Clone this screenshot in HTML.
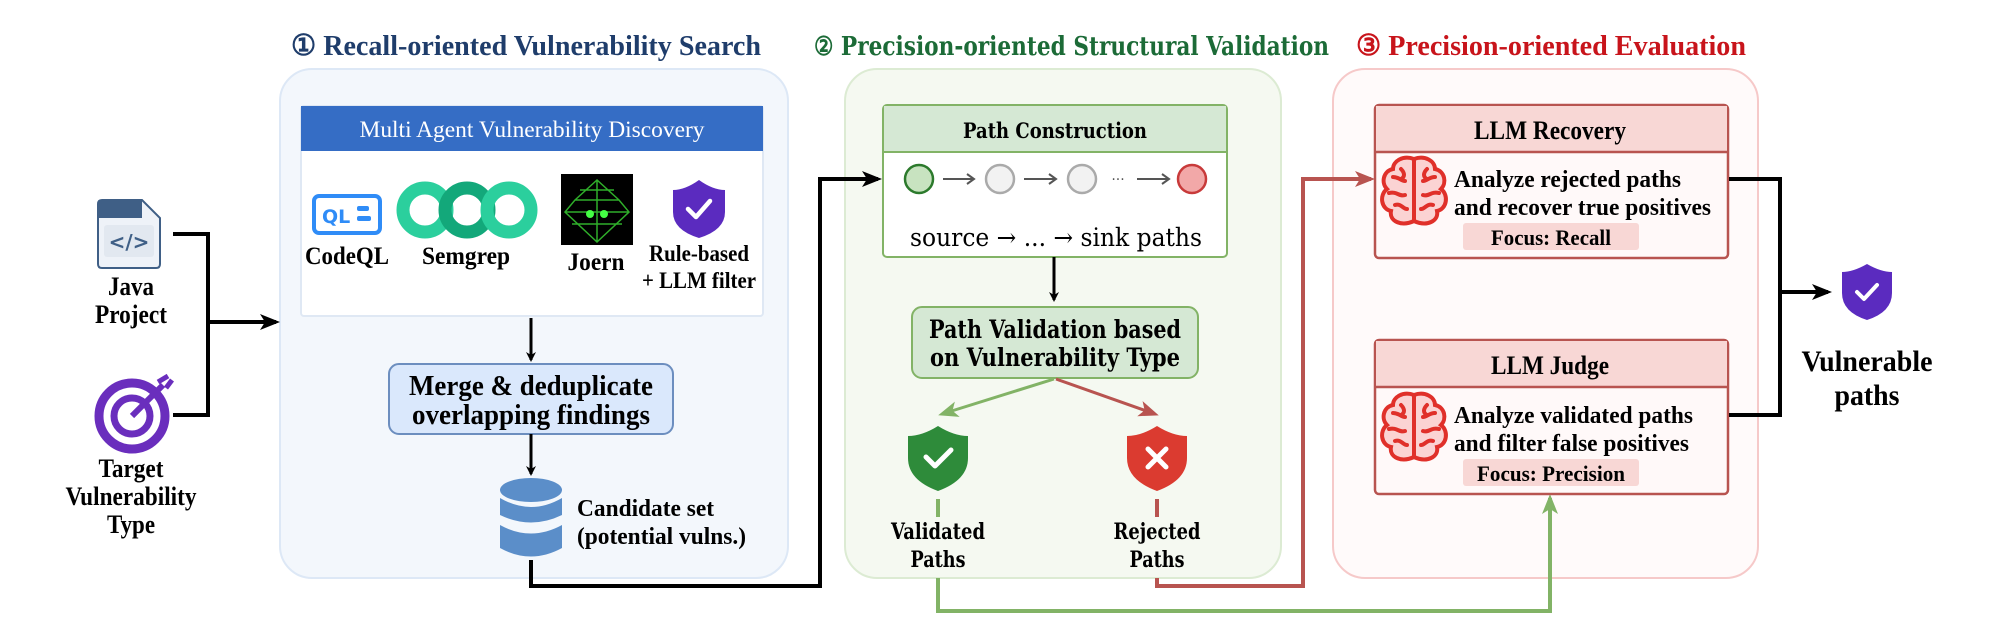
<!DOCTYPE html>
<html><head><meta charset="utf-8"><style>
html,body{margin:0;padding:0;background:#fff;}
svg{display:block;}
.ls{font-family:"Liberation Serif",serif;}
.dv{font-family:"DejaVu Serif","Liberation Serif",serif;}
</style></head><body>
<svg width="2000" height="642" viewBox="0 0 2000 642" xmlns="http://www.w3.org/2000/svg">
<defs>
<marker id="ab" markerWidth="10" markerHeight="10" refX="8" refY="5" orient="auto" markerUnits="userSpaceOnUse" viewBox="0 0 10 10"><path d="M0,0 L10,5 L0,10 L3,5 Z" fill="#000"/></marker>
<marker id="ag" markerWidth="20" markerHeight="20" refX="16" refY="10" orient="auto" markerUnits="userSpaceOnUse" viewBox="0 0 20 20"><path d="M0,2 L20,10 L0,18 L5,10 Z" fill="#82b366"/></marker>
<marker id="ar" markerWidth="20" markerHeight="20" refX="16" refY="10" orient="auto" markerUnits="userSpaceOnUse" viewBox="0 0 20 20"><path d="M0,2 L20,10 L0,18 L5,10 Z" fill="#b85450"/></marker>
<marker id="ak" markerWidth="20" markerHeight="20" refX="16" refY="10" orient="auto" markerUnits="userSpaceOnUse" viewBox="0 0 20 20"><path d="M0,2 L20,10 L0,18 L5,10 Z" fill="#000"/></marker>
<g id="brain" fill="none" stroke="#e0302a" stroke-width="4" stroke-linecap="round">
<path d="M35,4 C24,0 14,6 14,14 C4,16 2,28 8,34 C0,40 2,54 12,56 C10,66 22,72 35,66 Z" fill="#fbd3d3"/>
<path d="M35,4 C46,0 56,6 56,14 C66,16 68,28 62,34 C70,40 68,54 58,56 C60,66 48,72 35,66 Z" fill="#fbd3d3"/>
<path d="M35,4 L35,66"/>
<path d="M14,22 C20,22 22,26 26,26 M10,38 C18,36 20,42 26,40 M16,50 C22,48 24,54 28,54 M22,14 C26,18 26,22 22,24"/>
<path d="M56,22 C50,22 48,26 44,26 M60,38 C52,36 50,42 44,40 M54,50 C48,48 46,54 42,54 M48,14 C44,18 44,22 48,24"/>
</g>
</defs>

<!-- Titles -->
<text x="291" y="55" class="ls" font-weight="bold" font-size="29" fill="#1f3d6b" textLength="470" lengthAdjust="spacingAndGlyphs">① Recall-oriented Vulnerability Search</text>
<text x="814" y="55" class="dv" font-weight="bold" font-size="26" fill="#1c6b37" textLength="515" lengthAdjust="spacingAndGlyphs">② Precision-oriented Structural Validation</text>
<text x="1356" y="55" class="ls" font-weight="bold" font-size="29" fill="#c8141b" textLength="390" lengthAdjust="spacingAndGlyphs">③ Precision-oriented Evaluation</text>

<!-- Panels -->
<rect x="280" y="69" width="508" height="509" rx="32" fill="#f3f7fc" stroke="#dde8f6" stroke-width="2"/>
<rect x="845" y="69" width="436" height="509" rx="32" fill="#f5f9f1" stroke="#dcebd3" stroke-width="2"/>
<rect x="1333" y="69" width="425" height="509" rx="32" fill="#fffafa" stroke="#f6c9c9" stroke-width="2"/>

<!-- Left inputs -->
<g>
<path d="M98,204 Q98,200 102,200 L142,200 L160,218 L160,264 Q160,268 156,268 L102,268 Q98,268 98,264 Z" fill="#eef2f8" stroke="#3f5f86" stroke-width="2"/>
<path d="M98,204 Q98,200 102,200 L142,200 L142,218 L98,218 Z" fill="#3f5f86"/>
<rect x="104" y="225" width="50" height="32" rx="3" fill="#e2e8f0"/>
<text x="129" y="249" text-anchor="middle" font-family="DejaVu Sans,sans-serif" font-weight="bold" font-size="20" fill="#3f5f86">&lt;/&gt;</text>
</g>
<text x="131" y="295" text-anchor="middle" class="ls" font-weight="bold" font-size="26" textLength="46" lengthAdjust="spacingAndGlyphs">Java</text>
<text x="131" y="323" text-anchor="middle" class="ls" font-weight="bold" font-size="26" textLength="72" lengthAdjust="spacingAndGlyphs">Project</text>
<g fill="none" stroke="#6a2ebd">
<circle cx="132" cy="416" r="33" stroke-width="9"/>
<circle cx="132" cy="416" r="18" stroke-width="7"/>
<path d="M132,416 L163,385" stroke-width="6"/>
<path d="M158,382 L168,376 M166,388 L172,380" stroke-width="5"/>
</g>
<text x="131" y="477" text-anchor="middle" class="ls" font-weight="bold" font-size="26" textLength="65" lengthAdjust="spacingAndGlyphs">Target</text>
<text x="131" y="505" text-anchor="middle" class="ls" font-weight="bold" font-size="26" textLength="131" lengthAdjust="spacingAndGlyphs">Vulnerability</text>
<text x="131" y="533" text-anchor="middle" class="ls" font-weight="bold" font-size="26" textLength="48" lengthAdjust="spacingAndGlyphs">Type</text>
<path d="M173,234 L208,234 L208,415 L173,415" fill="none" stroke="#000" stroke-width="4"/>
<path d="M208,322 L276,322" fill="none" stroke="#000" stroke-width="4" marker-end="url(#ak)"/>

<!-- Multi agent box -->
<rect x="301" y="106" width="462" height="210" rx="3" fill="#fff" stroke="#dfe8f4" stroke-width="2"/>
<rect x="301" y="106" width="462" height="45" fill="#356dc5"/>
<text x="532" y="137" text-anchor="middle" class="ls" font-size="23" fill="#fff" textLength="345" lengthAdjust="spacingAndGlyphs">Multi Agent Vulnerability Discovery</text>
<!-- CodeQL -->
<rect x="314" y="196" width="66" height="37" rx="5" fill="#fff" stroke="#2f8cf7" stroke-width="4"/>
<text x="322" y="223" font-family="DejaVu Sans,sans-serif" font-weight="bold" font-size="19" fill="#2f8cf7">QL</text>
<rect x="357" y="206" width="12" height="5" rx="2" fill="#2f8cf7"/><rect x="357" y="216" width="14" height="5" rx="2" fill="#2f8cf7"/>
<text x="347" y="264" text-anchor="middle" class="ls" font-weight="bold" font-size="25" textLength="84" lengthAdjust="spacingAndGlyphs">CodeQL</text>
<!-- Semgrep -->
<g fill="none" stroke-width="13">
<circle cx="425" cy="210" r="22" stroke="#2bcf9d"/>
<circle cx="467" cy="210" r="22" stroke="#13a87a"/>
<circle cx="509" cy="210" r="22" stroke="#2bcf9d"/>
</g>
<text x="466" y="264" text-anchor="middle" class="ls" font-weight="bold" font-size="25" textLength="88" lengthAdjust="spacingAndGlyphs">Semgrep</text>
<!-- Joern -->
<rect x="561" y="174" width="72" height="71" fill="#000"/>
<g stroke="#2fae2a" stroke-width="1.5" fill="none">
<path d="M597,180 L575,200 L565,212 L597,242 L629,212 L619,200 Z M575,200 L619,200 M565,212 L629,212 M597,180 L597,242 M580,190 L614,190 M572,224 L622,224"/>
</g>
<circle cx="590" cy="214" r="4" fill="#4f4"/><circle cx="604" cy="214" r="4" fill="#4f4"/>
<text x="596" y="270" text-anchor="middle" class="ls" font-weight="bold" font-size="25" textLength="57" lengthAdjust="spacingAndGlyphs">Joern</text>
<!-- shield -->
<path d="M699,180 Q685,190 673,190 L673,212 Q673,230 699,238 Q725,230 725,212 L725,190 Q713,190 699,180 Z" fill="#5b2bbf"/>
<path d="M688,209 L696,217 L710,201" fill="none" stroke="#fff" stroke-width="4.5" stroke-linecap="round" stroke-linejoin="round"/>
<text x="699" y="261" text-anchor="middle" class="ls" font-weight="bold" font-size="23" textLength="100" lengthAdjust="spacingAndGlyphs">Rule-based</text>
<text x="699" y="288" text-anchor="middle" class="ls" font-weight="bold" font-size="23" textLength="114" lengthAdjust="spacingAndGlyphs">+ LLM filter</text>

<path d="M531,318 L531,360" stroke="#000" stroke-width="3" fill="none" marker-end="url(#ab)"/>
<rect x="389" y="364" width="284" height="70" rx="10" fill="#dae8fc" stroke="#6c8ebf" stroke-width="2"/>
<text x="531" y="395" text-anchor="middle" class="ls" font-weight="bold" font-size="28" textLength="244" lengthAdjust="spacingAndGlyphs">Merge &amp; deduplicate</text>
<text x="531" y="424" text-anchor="middle" class="ls" font-weight="bold" font-size="28" textLength="238" lengthAdjust="spacingAndGlyphs">overlapping findings</text>
<path d="M531,434 L531,474" stroke="#000" stroke-width="3" fill="none" marker-end="url(#ab)"/>
<!-- DB -->
<g fill="#5b8ec9">
<ellipse cx="531" cy="490" rx="31" ry="12"/>
<path d="M500,498 Q531,516 562,498 L562,515 Q531,530 500,515 Z"/>
<path d="M500,525 Q531,542 562,525 L562,548 Q531,565 500,548 Z"/>
</g>
<text x="577" y="516" class="ls" font-weight="bold" font-size="24" textLength="137" lengthAdjust="spacingAndGlyphs">Candidate set</text>
<text x="577" y="544" class="ls" font-weight="bold" font-size="24" textLength="169" lengthAdjust="spacingAndGlyphs">(potential vulns.)</text>
<path d="M531,560 L531,586 L820,586 L820,179 L878,179" fill="none" stroke="#000" stroke-width="4" marker-end="url(#ak)"/>

<!-- Path construction -->
<rect x="883" y="105" width="344" height="152" rx="4" fill="#fff" stroke="#82b366" stroke-width="2"/>
<path d="M884,106 L1226,106 L1226,152 L884,152 Z" fill="#d5e8d4"/>
<line x1="883" y1="152" x2="1227" y2="152" stroke="#82b366" stroke-width="2"/>
<text x="1055" y="138" text-anchor="middle" class="dv" font-weight="bold" font-size="21" textLength="184" lengthAdjust="spacingAndGlyphs">Path Construction</text>
<circle cx="919" cy="179" r="14" fill="#c8e3c0" stroke="#2c7a2c" stroke-width="2.5"/>
<circle cx="1000" cy="179" r="14" fill="#f2f2f2" stroke="#aaa" stroke-width="2.5"/>
<circle cx="1082" cy="179" r="14" fill="#f2f2f2" stroke="#aaa" stroke-width="2.5"/>
<circle cx="1192" cy="179" r="14" fill="#f2a8a8" stroke="#c83a3a" stroke-width="2.5"/>
<g stroke="#555" stroke-width="2" fill="none">
<path d="M943,179 L973,179 M967,174 L974,179 L967,184"/>
<path d="M1024,179 L1055,179 M1049,174 L1056,179 L1049,184"/>
<path d="M1137,179 L1168,179 M1162,174 L1169,179 L1162,184"/>
</g>
<text x="1118" y="184" text-anchor="middle" font-family="DejaVu Sans,sans-serif" font-size="14" fill="#555">···</text>
<text x="1056" y="246" text-anchor="middle" class="dv" font-size="25" textLength="292" lengthAdjust="spacingAndGlyphs">source → ... → sink paths</text>
<path d="M1054,257 L1054,300" stroke="#000" stroke-width="3" fill="none" marker-end="url(#ab)"/>
<rect x="912" y="307" width="286" height="71" rx="10" fill="#d5e8d4" stroke="#82b366" stroke-width="2"/>
<text x="1055" y="338" text-anchor="middle" class="dv" font-weight="bold" font-size="25" textLength="252" lengthAdjust="spacingAndGlyphs">Path Validation based</text>
<text x="1055" y="366" text-anchor="middle" class="dv" font-weight="bold" font-size="25" textLength="250" lengthAdjust="spacingAndGlyphs">on Vulnerability Type</text>
<path d="M1054,379 L942,414" stroke="#82b366" stroke-width="3" fill="none" marker-end="url(#ag)"/>
<path d="M1056,379 L1155,414" stroke="#b85450" stroke-width="3" fill="none" marker-end="url(#ar)"/>
<!-- shields -->
<path d="M938,426 Q922,436 908,436 L908,458 Q908,480 938,491 Q968,480 968,458 L968,436 Q954,436 938,426 Z" fill="#2e8b3a"/>
<path d="M926,457 L935,466 L951,450" fill="none" stroke="#fff" stroke-width="5" stroke-linecap="round" stroke-linejoin="round"/>
<path d="M1157,426 Q1141,436 1127,436 L1127,458 Q1127,480 1157,491 Q1187,480 1187,458 L1187,436 Q1173,436 1157,426 Z" fill="#db3b30"/>
<path d="M1148,449 L1166,467 M1166,449 L1148,467" stroke="#fff" stroke-width="5" stroke-linecap="round"/>
<line x1="938" y1="499" x2="938" y2="517" stroke="#82b366" stroke-width="4"/>
<line x1="1157" y1="499" x2="1157" y2="517" stroke="#b85450" stroke-width="4"/>
<text x="938" y="539" text-anchor="middle" class="dv" font-weight="bold" font-size="22" textLength="94" lengthAdjust="spacingAndGlyphs">Validated</text>
<text x="938" y="567" text-anchor="middle" class="dv" font-weight="bold" font-size="22" textLength="55" lengthAdjust="spacingAndGlyphs">Paths</text>
<text x="1157" y="539" text-anchor="middle" class="dv" font-weight="bold" font-size="22" textLength="87" lengthAdjust="spacingAndGlyphs">Rejected</text>
<text x="1157" y="567" text-anchor="middle" class="dv" font-weight="bold" font-size="22" textLength="55" lengthAdjust="spacingAndGlyphs">Paths</text>
<path d="M938,578 L938,611 L1550,611 L1550,498" fill="none" stroke="#82b366" stroke-width="4" marker-end="url(#ag)"/>
<path d="M1157,578 L1157,586 L1303,586 L1303,179 L1371,179" fill="none" stroke="#b85450" stroke-width="4" marker-end="url(#ar)"/>

<!-- LLM Recovery -->
<rect x="1375" y="105" width="353" height="153" rx="4" fill="#fff9f9" stroke="#b85450" stroke-width="2.5"/>
<path d="M1376,106 L1727,106 L1727,152 L1376,152 Z" fill="#f8d7d5"/>
<line x1="1375" y1="152" x2="1728" y2="152" stroke="#b85450" stroke-width="2.5"/>
<text x="1550" y="139" text-anchor="middle" class="ls" font-weight="bold" font-size="26" textLength="152" lengthAdjust="spacingAndGlyphs">LLM Recovery</text>
<use href="#brain" transform="translate(1379,155)"/>
<text x="1454" y="187" class="ls" font-weight="bold" font-size="24" textLength="227" lengthAdjust="spacingAndGlyphs">Analyze rejected paths</text>
<text x="1454" y="215" class="ls" font-weight="bold" font-size="24" textLength="257" lengthAdjust="spacingAndGlyphs">and recover true positives</text>
<rect x="1463" y="223" width="176" height="27" rx="3" fill="#f8d7d5"/>
<text x="1551" y="245" text-anchor="middle" class="ls" font-weight="bold" font-size="22" textLength="120" lengthAdjust="spacingAndGlyphs">Focus: Recall</text>

<!-- LLM Judge -->
<rect x="1375" y="340" width="353" height="154" rx="4" fill="#fff9f9" stroke="#b85450" stroke-width="2.5"/>
<path d="M1376,341 L1727,341 L1727,387 L1376,387 Z" fill="#f8d7d5"/>
<line x1="1375" y1="387" x2="1728" y2="387" stroke="#b85450" stroke-width="2.5"/>
<text x="1550" y="374" text-anchor="middle" class="ls" font-weight="bold" font-size="26" textLength="118" lengthAdjust="spacingAndGlyphs">LLM Judge</text>
<use href="#brain" transform="translate(1379,391)"/>
<text x="1454" y="423" class="ls" font-weight="bold" font-size="24" textLength="239" lengthAdjust="spacingAndGlyphs">Analyze validated paths</text>
<text x="1454" y="451" class="ls" font-weight="bold" font-size="24" textLength="235" lengthAdjust="spacingAndGlyphs">and filter false positives</text>
<rect x="1463" y="459" width="176" height="27" rx="3" fill="#f8d7d5"/>
<text x="1551" y="481" text-anchor="middle" class="ls" font-weight="bold" font-size="22" textLength="148" lengthAdjust="spacingAndGlyphs">Focus: Precision</text>

<!-- Output -->
<path d="M1729,179 L1780,179 L1780,415 L1729,415" fill="none" stroke="#000" stroke-width="4"/>
<path d="M1780,292 L1828,292" fill="none" stroke="#000" stroke-width="4" marker-end="url(#ak)"/>
<path d="M1867,264 Q1853,272 1842,272 L1842,293 Q1842,312 1867,320 Q1892,312 1892,293 L1892,272 Q1881,272 1867,264 Z" fill="#5b2bbf"/>
<path d="M1857,292 L1864,299 L1877,285" fill="none" stroke="#fff" stroke-width="4" stroke-linecap="round" stroke-linejoin="round"/>
<text x="1867" y="371" text-anchor="middle" class="ls" font-weight="bold" font-size="30" textLength="131" lengthAdjust="spacingAndGlyphs">Vulnerable</text>
<text x="1867" y="405" text-anchor="middle" class="ls" font-weight="bold" font-size="30" textLength="65" lengthAdjust="spacingAndGlyphs">paths</text>
</svg>
</body></html>
